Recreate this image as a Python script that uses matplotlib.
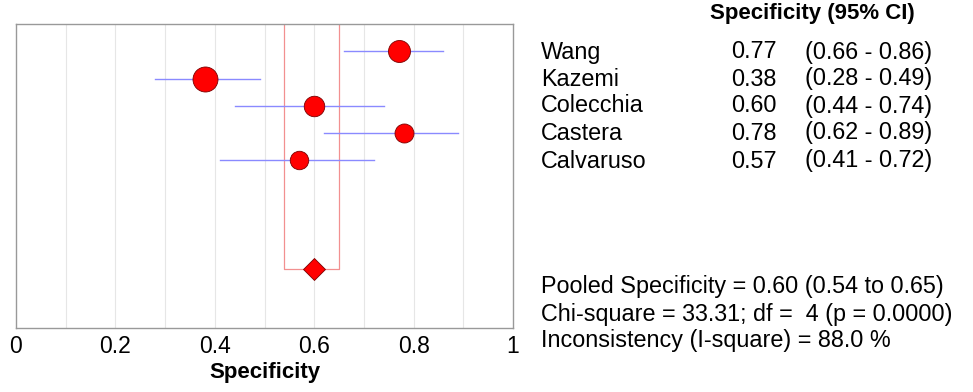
#!/usr/bin/env python
'''
forest plot of pooled specificity, five studies
'''
import matplotlib
matplotlib.use('Agg')
import matplotlib.pyplot as plt

studies = ['Wang', 'Kazemi', 'Colecchia', 'Castera', 'Calvaruso']
spec = [0.77, 0.38, 0.60, 0.78, 0.57]
ci_lo = [0.66, 0.28, 0.44, 0.62, 0.41]
ci_hi = [0.86, 0.49, 0.74, 0.89, 0.72]
weight = [22.0, 25.0, 20.5, 19.0, 18.5]   # marker diameter, px

pooled = 0.60
pooled_lo = 0.54
pooled_hi = 0.65
chi2 = 33.31
df = 4
pval = 0.0000
isq = 88.0

xticks = [0, 0.2, 0.4, 0.6, 0.8, 1]
xtick_labels = ['0', '0.2', '0.4', '0.6', '0.8', '1']

plt.rcParams['font.family'] = ['Liberation Sans', 'DejaVu Sans']
FS = 16.8

fig = plt.figure(figsize=(9.73, 3.92), dpi=100)
ax = fig.add_axes([16/973, 1 - 328/392, 497/973, 304/392])

# light vertical grid every 0.1
for g in [0.1*i for i in range(1, 10)]:
    ax.axvline(g, color='#e6e6e6', lw=0.8, zorder=0)

rows = list(range(len(studies)))
prow = 8

# pooled CI box
ax.plot([pooled_lo, pooled_lo, pooled_hi, pooled_hi],
        [-1.5, prow, prow, -1.5], color='#f29090', lw=0.9, zorder=1)

for i in rows:
    ax.plot([ci_lo[i], ci_hi[i]], [i, i], color='#8a8aff', lw=1.0, zorder=2)
    ax.plot(spec[i], i, 'o', ms=weight[i]*0.72, mfc='#ff0000',
            mec='#7a0000', mew=0.6, zorder=3)

ax.plot(pooled, prow, 'D', ms=10.8, mfc='#ff0000', mec='#7a0000', mew=0.6, zorder=3)

ax.set_xlim(0, 1)
ax.set_ylim(10.15, -1)
ax.set_yticks([])
ax.set_xticks(xticks)
ax.set_xticklabels(xtick_labels, fontsize=16.5)
ax.tick_params(axis='x', length=0, pad=5)
for s in ax.spines.values():
    s.set_color('#999999')
    s.set_linewidth(1.0)
ax.set_xlabel('Specificity', fontsize=16, fontweight='bold', labelpad=3)

# table on the right
def fy(py):
    return 1 - py/392

fig.text(812/973, fy(14), 'Specificity (95% CI)', fontsize=16, fontweight='bold',
         ha='center', va='center')
row_px = [52, 79, 106, 133, 161]
for i, name in enumerate(studies):
    fig.text(541/973, fy(row_px[i]), name, fontsize=FS, va='center')
    fig.text(777/973, fy(row_px[i]), '{:.2f}'.format(spec[i]), fontsize=FS,
             va='center', ha='right')
    fig.text(805/973, fy(row_px[i]), '({:.2f} - {:.2f})'.format(ci_lo[i], ci_hi[i]),
             fontsize=FS, va='center')

stats = ['Pooled Specificity = {:.2f} ({:.2f} to {:.2f})'.format(pooled, pooled_lo, pooled_hi),
         'Chi-square = {:.2f}; df =  {:d} (p = {:.4f})'.format(chi2, df, pval),
         'Inconsistency (I-square) = {:.1f} %'.format(isq)]
for line, py in zip(stats, [287, 315, 341]):
    fig.text(541/973, fy(py), line, fontsize=FS, va='center')

fig.savefig('out.png', dpi=100)
